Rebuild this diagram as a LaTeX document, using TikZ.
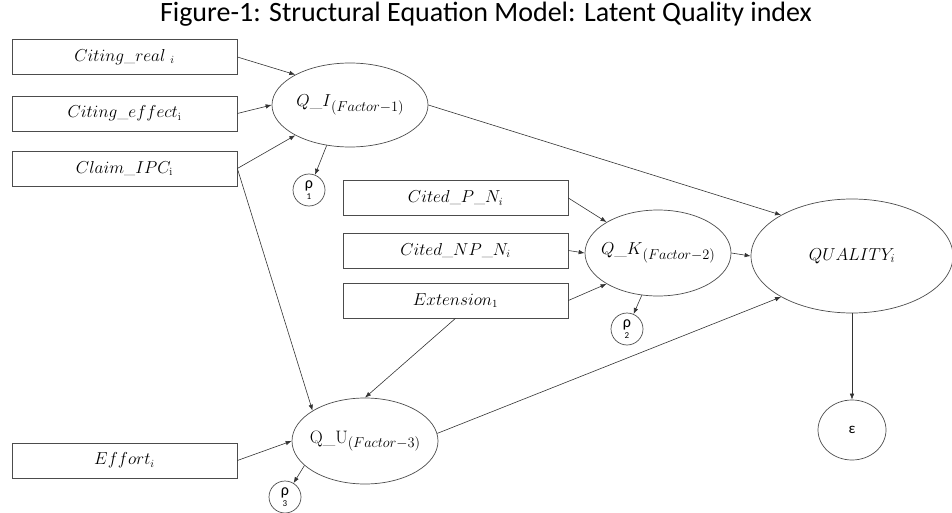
\documentclass[tikz,border=0pt]{standalone}
\usepackage{amsmath}
\usepackage{fontspec}
\usepackage{tikz}
\usetikzlibrary{shapes.geometric,arrows.meta}
\newfontfamily\calibri{Carlito}
% lowered factor label, set larger than a plain subscript
\newcommand{\fsub}[1]{\raisebox{-4.5pt}{\fontsize{14.4}{15}\selectfont$#1$}}

\begin{document}
\begin{tikzpicture}[x=1pt,y=1pt,yscale=-1,xscale=1,
  obs/.style={draw=black!70,line width=0.7pt,minimum width=225pt,minimum height=35pt,inner sep=0pt,font=\fontsize{16}{18}\selectfont},
  lat/.style={ellipse,draw=black!70,line width=0.7pt,inner ysep=0pt,inner xsep=-15pt,font=\fontsize{18}{20}\selectfont},
  res/.style={ellipse,draw=black!70,line width=0.7pt,inner sep=0pt,minimum width=32pt,minimum height=32pt,align=center,font=\calibri\fontsize{16}{16}\selectfont},
  lnk/.style={draw=black!80,line width=0.6pt,-{Latex[length=6pt,width=4.5pt]}}
]
\useasboundingbox (0,0) rectangle (952,513);

% Title
\node [anchor=base] (title) at (486,22) {\calibri\fontsize{28}{30}\selectfont Figure-1: Structural Equation Model: Latent Quality index};

%Flowchart: Process
\node [obs] (creal) at (124.5,57) {$Citing\_real\;{}_i$};
\node [obs] (ceff) at (124.5,113.5) {$Citing\_effect_{\mathrm{i}}$};
\node [obs] (claim) at (124.5,168.5) {$Claim\_IPC_{\mathrm{i}}$};
\node [obs] (citp) at (455.5,198) {$Cited\_P\_N_i$};
\node [obs] (citnp) at (455.5,250.5) {$Cited\_NP\_N_i$};
\node [obs] (ext) at (455.5,300.5) {$Extension_1$};
\node [obs] (effort) at (124.5,460.5) {$Effort_i$};

%Flowchart: Connector
\node [lat,minimum width=156pt,minimum height=84pt] (qi) at (350,105) {$Q\_I$\fsub{(Factor{-}1)}};
\node [lat,minimum width=146pt,minimum height=86pt] (qk) at (658,253) {$Q\_K$\fsub{(Factor{-}2)}};
\node [lat,minimum width=146pt,minimum height=86pt] (qu) at (365,441) {$\mathrm{Q\_U}$\fsub{(Factor{-}3)}};
\node [lat,minimum width=202pt,minimum height=114pt,font=\fontsize{17}{20}\selectfont] (qual) at (852,256) {$QUALITY_i$};

% residuals
\node [res] (rho1) at (309,190) {ρ\\[-5pt]{\fontsize{9}{9}\selectfont 1}};
\node [res] (rho2) at (627,329) {ρ\\[-5pt]{\fontsize{9}{9}\selectfont 2}};
\node [res] (rho3) at (285,497) {ρ\\[-5pt]{\fontsize{9}{9}\selectfont 3}};
\node [res,minimum width=68pt,minimum height=60pt,font=\calibri\fontsize{15}{15}\selectfont] (eps) at (852,430) {ε};

%Straight Lines
\draw [lnk] (creal.east) -- (qi.151);
\draw [lnk] (ceff.east) -- (qi.west);
\draw [lnk] (claim.east) -- (qi.209);
\draw [lnk] (claim.east) -- (qu.150);
\draw [lnk] (qi.240) -- (rho1);
\draw [lnk] (qi.east) -- (qual.150);
\draw [lnk] (citp.east) -- (qk.149);
\draw [lnk] (citnp.east) -- (qk.west);
\draw [lnk] (ext.east) -- (qk.211);
\draw [lnk] (qk.east) -- (qual.west);
\draw [lnk] (qk.249) -- (rho2);
\draw [lnk] (ext.south) -- (qu.north);
\draw [lnk] (qu.6) -- (qual.210);
\draw [lnk] (effort.east) -- (qu.west);
\draw [lnk] (qu.202) -- (rho3);
\draw [lnk] (qual.south) -- (eps.north);

\end{tikzpicture}
\end{document}
